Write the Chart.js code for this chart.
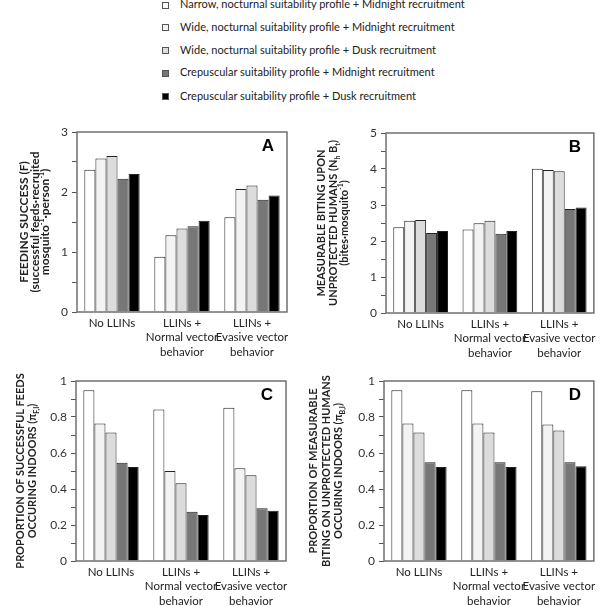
<!DOCTYPE html>
<html>
<head>
<meta charset="utf-8">
<script src="https://cdn.jsdelivr.net/npm/chart.js@4/dist/chart.umd.min.js"></script>
<style>
  body { margin: 0; background: #fff; font-family: Lato, sans-serif; color: #222; }
  #page { position: relative; width: 600px; height: 606px; overflow: hidden; }
  canvas { position: absolute; }
  .ytitle {
    position: absolute; white-space: nowrap; text-align: center;
    font-weight: bold; font-size: 11px; color: #222;
    transform: translate(-50%, -50%) rotate(-90deg);
  }
  .ytitle sub, .ytitle sup { font-size: 7px; line-height: 0; }
  #legend { position: absolute; left: 162px; top: 0; font-size: 11px; color: #222; }
  #legend div { position: absolute; white-space: nowrap; }
  #legend span.box {
    position: absolute; left: 0; width: 7px; height: 7px;
    border: 1px solid #555; box-sizing: border-box;
  }
  #legend span.txt { position: absolute; left: 18px; }
</style>
</head>
<body>
<div id="page">
  <div id="legend"></div>

  <canvas id="chartA" width="300" height="254" style="left:0;top:110px"></canvas>
  <canvas id="chartB" width="300" height="254" style="left:300px;top:110px"></canvas>
  <canvas id="chartC" width="300" height="244" style="left:0;top:362px"></canvas>
  <canvas id="chartD" width="300" height="244" style="left:300px;top:362px"></canvas>

  <div class="ytitle" style="left:35px;top:222px;line-height:10.5px;font-size:12px">
    FEEDING SUCCESS (F)<br>(successful feeds·recruited<br>mosquito<sup>-1</sup>·person<sup>-1</sup>)
  </div>
  <div class="ytitle" style="left:332px;top:223px;line-height:11.5px">
    MEASURABLE BITING UPON<br>UNPROTECTED HUMANS (N<sub>h</sub> B<sub>t</sub>)<br>(bites·mosquito<sup>-1</sup>)
  </div>
  <div class="ytitle" style="left:26px;top:471px;line-height:12px">
    PROPORTION OF SUCCESSFUL FEEDS<br>OCCURING INDOORS (π<sub>F,I</sub>)
  </div>
  <div class="ytitle" style="left:326px;top:471px;line-height:12.5px">
    PROPORTION OF MEASURABLE<br>BITING ON UNPROTECTED HUMANS<br>OCCURING INDOORS (π<sub>B,I</sub>)
  </div>
</div>

<script>
// Categories (x axis) and series
const categories = [
  ['No LLINs'],
  ['LLINs +', 'Normal vector', 'behavior'],
  ['LLINs +', 'Evasive vector', 'behavior']
];
const seriesNames = [
  'Narrow, nocturnal suitability profile + Midnight recruitment',
  'Wide, nocturnal suitability profile + Midnight recruitment',
  'Wide, nocturnal suitability profile + Dusk recruitment',
  'Crepuscular suitability profile + Midnight recruitment',
  'Crepuscular suitability profile + Dusk recruitment'
];
const seriesColors = ['#ffffff', '#f3f3f3', '#dcdcdc', '#777777', '#000000'];

// Panel A: feeding success, one row per series
const feedingSuccess = [
  [2.37, 0.92, 1.58],
  [2.56, 1.28, 2.05],
  [2.60, 1.39, 2.11],
  [2.22, 1.43, 1.87],
  [2.30, 1.52, 1.94]
];
// Panel B: measurable biting upon unprotected humans
const measurableBiting = [
  [2.38, 2.32, 4.01],
  [2.56, 2.49, 3.97],
  [2.58, 2.56, 3.94],
  [2.22, 2.20, 2.89],
  [2.28, 2.28, 2.93]
];
// Panel C: proportion of successful feeds indoors
const feedsIndoors = [
  [0.948, 0.841, 0.851],
  [0.764, 0.500, 0.515],
  [0.714, 0.432, 0.476],
  [0.546, 0.273, 0.293],
  [0.522, 0.255, 0.279]
];
// Panel D: proportion of measurable biting indoors
const bitingIndoors = [
  [0.948, 0.948, 0.943],
  [0.764, 0.764, 0.758],
  [0.714, 0.714, 0.725],
  [0.548, 0.548, 0.548],
  [0.522, 0.522, 0.527]
];

// Legend built from the series arrays
const legendEl = document.getElementById('legend');
const legendRows = [5, 27.7, 50.7, 73.3, 96.5];
seriesNames.forEach((name, i) => {
  const row = document.createElement('div');
  row.style.top = legendRows[i] + 'px';
  const box = document.createElement('span');
  box.className = 'box';
  box.style.background = seriesColors[i];
  box.style.top = '-3.5px';
  const txt = document.createElement('span');
  txt.className = 'txt';
  txt.style.top = '-8px';
  txt.textContent = name;
  row.appendChild(box);
  row.appendChild(txt);
  legendEl.appendChild(row);
});

Chart.defaults.font.family = 'Lato, sans-serif';
Chart.defaults.color = '#333';

// Draws the plot frame and the panel letter
const framePlugin = {
  id: 'frame',
  afterDraw(chart, args, opts) {
    const a = chart.chartArea;
    const ctx = chart.ctx;
    ctx.save();
    ctx.strokeStyle = '#707070';
    ctx.lineWidth = 1.5;
    ctx.strokeRect(a.left, a.top, a.right - a.left, a.bottom - a.top);
    ctx.fillStyle = '#000';
    ctx.font = 'bold 17px "Liberation Sans", Arial, sans-serif';
    ctx.textAlign = 'center';
    ctx.textBaseline = 'middle';
    ctx.fillText(opts.letter, a.right - 19, a.top + 14);
    ctx.restore();
  }
};

function makePanel(id, values, yMax, step, labelEvery, area, letter) {
  const canvas = document.getElementById(id);
  const h = canvas.height;
  new Chart(canvas, {
    type: 'bar',
    data: {
      labels: categories,
      datasets: values.map((vals, i) => ({
        label: seriesNames[i],
        data: vals,
        backgroundColor: seriesColors[i],
        borderColor: '#222',
        borderWidth: 1,
        barPercentage: 1.0,
        categoryPercentage: 0.79
      }))
    },
    plugins: [framePlugin],
    options: {
      responsive: false,
      animation: false,
      layout: { padding: { left: 0, top: area.top, right: 300 - area.right, bottom: 0 } },
      plugins: {
        legend: { display: false },
        tooltip: { enabled: false },
        frame: { letter: letter }
      },
      scales: {
        x: {
          grid: { display: false, drawTicks: false, tickLength: 0 },
          border: { display: false },
          ticks: {
            autoSkip: false, maxRotation: 0, padding: 4,
            font: { size: 11.5, lineHeight: 1.25 }, color: '#222'
          },
          afterFit(scale) { scale.height = h - area.bottom; }
        },
        y: {
          min: 0, max: yMax,
          grid: { drawOnChartArea: false, drawTicks: true, tickLength: 5, color: '#555', tickColor: '#555' },
          border: { display: false },
          ticks: {
            stepSize: step, padding: 4, font: { size: 12 }, color: '#333',
            callback(v) {
              const k = Math.round(v / step);
              if (k % labelEvery !== 0) return '';
              return String(Math.round(v * 10) / 10);
            }
          },
          afterFit(scale) { scale.width = area.left; }
        }
      }
    }
  });
}

makePanel('chartA', feedingSuccess, 3, 0.5, 2, { left: 77, right: 287, top: 22, bottom: 202 }, 'A');
makePanel('chartB', measurableBiting, 5, 0.5, 2, { left: 86, right: 297, top: 23, bottom: 203 }, 'B');
makePanel('chartC', feedsIndoors, 1, 0.1, 2, { left: 76, right: 286, top: 19, bottom: 199 }, 'C');
makePanel('chartD', bitingIndoors, 1, 0.1, 2, { left: 84, right: 295, top: 19, bottom: 199 }, 'D');
</script>
</body>
</html>
